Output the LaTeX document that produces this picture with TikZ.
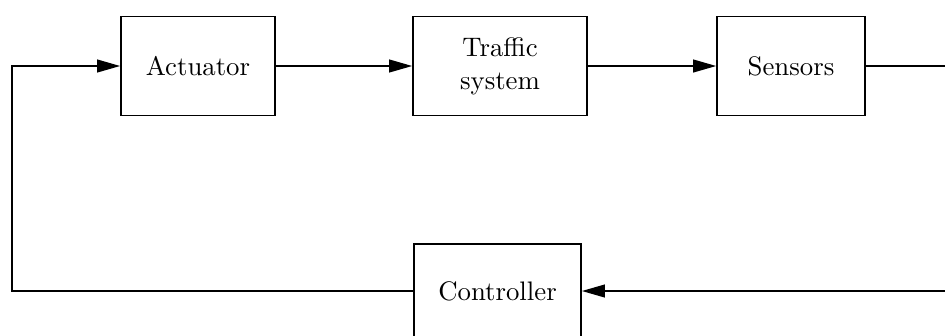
\documentclass[tikz,border=0pt]{standalone}
\usetikzlibrary{arrows.meta}
\begin{document}
\begin{tikzpicture}[x=0.392pt,y=-0.392pt,
  font=\fontsize{10.5}{12.8}\selectfont,
  blk/.style={draw, line width=0.65pt, rectangle, inner sep=0pt, align=center,
              minimum height=38.8pt},
  sig/.style={line width=0.65pt},
  arr/.style={sig, -{Triangle[length=9pt,width=5pt]}}]
  % page frame
  \useasboundingbox (0,0) rectangle (945,335);
  \clip (0,0) rectangle (945,335);

  % forward path blocks
  \node[blk, minimum width=60.4pt] (act) at (198,66) {Actuator};
  \node[blk, minimum width=68.2pt] (traf) at (500,66) {Traffic\\system};
  \node[blk, minimum width=58pt] (sens) at (791,66) {Sensors};
  % feedback block
  \node[blk, minimum width=65.5pt, minimum height=36.9pt] (ctrl) at (497.5,291) {Controller};

  % loop corners
  \coordinate (lb) at (12,291);
  \coordinate (rt) at (948,66);
  \coordinate (rb) at (948,291);

  % forward connections
  \draw[arr] (act.east) -- (traf.west);
  \draw[arr] (traf.east) -- (sens.west);
  \draw[sig] (sens.east) -- (rt);

  % feedback connections
  \draw[arr] (rb) -- (ctrl.east);
  \draw[arr] (ctrl.west) -- (lb) |- (act.west);
\end{tikzpicture}
\end{document}
